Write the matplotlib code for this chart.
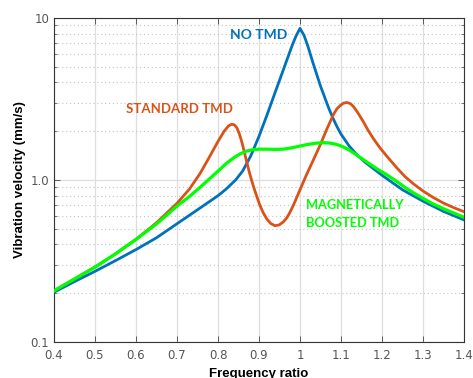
import matplotlib
matplotlib.use("Agg")
import matplotlib.pyplot as plt
from matplotlib.ticker import FixedLocator, NullFormatter, LogLocator

# ---- data ----
no_tmd_x = [0.40, 0.45, 0.50, 0.55, 0.60, 0.65, 0.70, 0.75, 0.80, 0.82, 0.843, 0.86,
            0.88, 0.90, 0.92, 0.94, 0.96, 0.98, 0.99, 1.00, 1.01, 1.02, 1.03, 1.04,
            1.05, 1.06, 1.07, 1.08, 1.09, 1.10, 1.12, 1.14, 1.16, 1.18, 1.20, 1.25,
            1.30, 1.35, 1.40]
no_tmd_v = [0.203, 0.236, 0.273, 0.318, 0.372, 0.44, 0.537, 0.655, 0.80, 0.88, 1.0, 1.135,
            1.41, 1.86, 2.54, 3.51, 4.84, 6.68, 7.71, 8.63, 7.8, 6.6, 5.45, 4.55,
            3.8, 3.25, 2.78, 2.42, 2.14, 1.92, 1.62, 1.42, 1.28, 1.17, 1.07, 0.87,
            0.74, 0.64, 0.567]

std_x = [0.40, 0.45, 0.50, 0.55, 0.60, 0.65, 0.70, 0.73, 0.756, 0.78, 0.80, 0.815,
         0.825, 0.833, 0.840, 0.846, 0.852, 0.858, 0.864, 0.870, 0.878, 0.886, 0.894,
         0.902, 0.910, 0.919, 0.929, 0.939, 0.949, 0.959, 0.968, 0.976, 0.984, 0.992,
         1.000, 1.016, 1.032, 1.049, 1.065, 1.082, 1.090, 1.098, 1.106, 1.114, 1.122,
         1.130, 1.142, 1.154, 1.166, 1.179, 1.195, 1.211, 1.236, 1.256, 1.276, 1.300,
         1.325, 1.350, 1.375, 1.400]
std_v = [0.207, 0.245, 0.29, 0.35, 0.43, 0.545, 0.718, 0.877, 1.094, 1.40, 1.73, 2.0,
         2.15, 2.21, 2.19, 2.1, 1.93, 1.72, 1.50, 1.29, 1.08, 0.92, 0.80,
         0.70, 0.63, 0.575, 0.538, 0.522, 0.528, 0.55, 0.585, 0.635, 0.70, 0.78,
         0.87, 1.08, 1.32, 1.64, 2.05, 2.55, 2.75, 2.88, 2.98, 3.01, 2.97,
         2.85, 2.58, 2.30, 2.03, 1.80, 1.58, 1.41, 1.19, 1.05, 0.95, 0.855,
         0.78, 0.72, 0.675, 0.637]

mag_x = [0.40, 0.45, 0.50, 0.55, 0.60, 0.65, 0.70, 0.73, 0.756, 0.789, 0.821, 0.84,
         0.854, 0.87, 0.886, 0.90, 0.919, 0.94, 0.959, 0.98, 1.00, 1.02, 1.041, 1.06,
         1.073, 1.086, 1.098, 1.11, 1.122, 1.136, 1.150, 1.171, 1.195, 1.211, 1.236,
         1.256, 1.276, 1.30, 1.325, 1.35, 1.375, 1.40]
mag_v = [0.207, 0.245, 0.29, 0.35, 0.43, 0.535, 0.69, 0.79, 0.9, 1.07, 1.27, 1.38,
         1.45, 1.51, 1.54, 1.55, 1.55, 1.545, 1.55, 1.58, 1.62, 1.66, 1.69, 1.70,
         1.69, 1.665, 1.63, 1.58, 1.52, 1.44, 1.36, 1.25, 1.14, 1.08, 0.98,
         0.90, 0.835, 0.77, 0.71, 0.665, 0.625, 0.589]

x_ticks = [0.4, 0.5, 0.6, 0.7, 0.8, 0.9, 1.0, 1.1, 1.2, 1.3, 1.4]
x_tick_labels = ["0.4", "0.5", "0.6", "0.7", "0.8", "0.9", "1", "1.1", "1.2", "1.3", "1.4"]
y_ticks = [0.1, 1.0, 10]
y_tick_labels = ["0.1", "1.0", "10"]

BLUE = "#0072BD"
ORANGE = "#D95319"
GREEN = "#00FF00"

fig = plt.figure(figsize=(4.73, 3.78), dpi=100)
ax = fig.add_axes([54 / 473, 1 - 342 / 378, 410 / 473, 324 / 378])

ax.plot(no_tmd_x, no_tmd_v, color=BLUE, lw=2.0, zorder=3, solid_joinstyle="round")
ax.plot(std_x, std_v, color=ORANGE, lw=2.0, zorder=3, solid_joinstyle="round")
ax.plot(mag_x, mag_v, color=GREEN, lw=2.3, zorder=4, solid_joinstyle="round")

ax.set_yscale("log")
ax.set_xlim(0.4, 1.4)
ax.set_ylim(0.1, 10)

ax.xaxis.set_major_locator(FixedLocator(x_ticks))
ax.set_xticklabels(x_tick_labels)
ax.yaxis.set_major_locator(FixedLocator(y_ticks))
ax.set_yticklabels(y_tick_labels)
ax.yaxis.set_minor_locator(LogLocator(base=10, subs=range(2, 10)))
ax.yaxis.set_minor_formatter(NullFormatter())

ax.grid(which="major", color="#dedede", lw=0.9, ls="-", zorder=0)
ax.grid(which="minor", axis="y", color="#c4c4c4", lw=0.8, ls=(0, (1, 2.5)), zorder=0)
ax.set_axisbelow(True)

ax.tick_params(which="both", direction="in", top=True, right=True,
               colors="#444444", labelcolor="#555555", labelsize=8.5)
ax.tick_params(which="major", length=4, width=0.6)
ax.tick_params(which="minor", length=2.5, width=0.5)
ax.tick_params(axis="x", which="major", pad=5)
for s in ax.spines.values():
    s.set_color("#333333")
    s.set_linewidth(0.8)

axis_font = ["Liberation Sans", "DejaVu Sans"]
ax.set_xlabel("Frequency ratio", fontsize=9.5, fontweight="bold", family=axis_font, labelpad=4)
ax.set_ylabel("Vibration velocity (mm/s)", fontsize=9.5, fontweight="bold",
              family=axis_font, labelpad=3)

lab_font = ["Lato", "DejaVu Sans"]
ax.text(0.898, 7.85, "NO TMD", color=BLUE, fontsize=10, fontweight="bold",
        family=lab_font, ha="center", va="center")
ax.text(0.707, 2.74, "STANDARD TMD", color=ORANGE, fontsize=9.5, fontweight="bold",
        family=lab_font, ha="center", va="center")
ax.text(1.015, 0.617, "MAGNETICALLY\nBOOSTED TMD", color=GREEN, fontsize=9.2,
        fontweight="bold", family=lab_font, ha="left", va="center", linespacing=1.6)

fig.savefig("out.png", dpi=100)
